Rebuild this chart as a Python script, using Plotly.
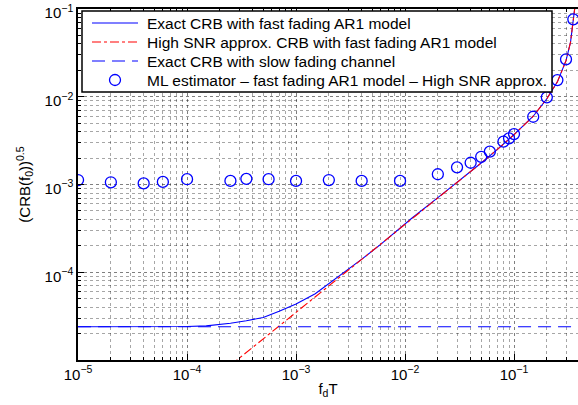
import plotly.graph_objects as go

# ---- data ----
fdT_exact = [1e-5, 3e-5, 1e-4, 1.5e-4, 2.5e-4, 3.5e-4, 5e-4, 7e-4, 1e-3, 1.5e-3, 2e-3,
             3e-3, 4.1e-3, 5.9e-3, 1.16e-2, 2e-2, 3e-2, 5e-2, 7e-2, 0.1, 0.15,
             0.2, 0.25, 0.3, 0.33, 0.35, 0.36, 0.365]
crb_exact = [2.39e-5, 2.39e-5, 2.41e-5, 2.45e-5, 2.62e-5, 2.8e-5, 3.05e-5, 3.6e-5, 4.35e-5,
             5.7e-5, 7.4e-5, 1.07e-4, 1.44e-4, 2.05e-4, 4.15e-4, 7.1e-4, 1.05e-3, 1.76e-3,
             2.5e-3, 3.7e-3, 6.0e-3, 9.5e-3, 1.48e-2, 2.58e-2, 4.2e-2, 7.0e-2, 1.0e-1, 1.3e-1]

fdT_approx = [2.5e-4, 5e-4, 1e-3, 2e-3, 5e-3, 1e-2, 2e-2, 3e-2, 5e-2, 7e-2, 0.1, 0.15,
              0.2, 0.25, 0.3, 0.33, 0.35, 0.36, 0.365]
crb_approx = [8.7e-6, 1.74e-5, 3.47e-5, 6.9e-5, 1.74e-4, 3.5e-4, 7.0e-4, 1.05e-3, 1.76e-3,
              2.5e-3, 3.7e-3, 6.0e-3, 9.5e-3, 1.48e-2, 2.58e-2, 4.2e-2, 7.0e-2, 1.0e-1, 1.3e-1]

fdT_slow = [1e-5, 0.4]
crb_slow = [2.39e-5, 2.39e-5]

fdT_ml = [1e-5, 2e-5, 4e-5, 6e-5, 1e-4, 2.5e-4, 3.5e-4, 5.6e-4, 1e-3, 2e-3, 4e-3, 9e-3,
          2e-2, 3e-2, 4e-2, 5e-2, 6e-2, 8e-2, 9e-2, 0.1, 0.15, 0.2, 0.25, 0.3, 0.35]
crb_ml = [1.125e-3, 1.06e-3, 1.03e-3, 1.07e-3, 1.15e-3, 1.10e-3, 1.16e-3, 1.15e-3, 1.10e-3,
          1.125e-3, 1.10e-3, 1.10e-3, 1.31e-3, 1.57e-3, 1.77e-3, 2.07e-3, 2.37e-3, 3.08e-3,
          3.36e-3, 3.76e-3, 5.92e-3, 9.86e-3, 1.55e-2, 2.67e-2, 7.63e-2]

x_tickvals = [1e-5, 1e-4, 1e-3, 1e-2, 1e-1]
x_ticktext = ["10<sup>−5</sup>", "10<sup>−4</sup>", "10<sup>−3</sup>", "10<sup>−2</sup>", "10<sup>−1</sup>"]
y_tickvals = [1e-5, 1e-4, 1e-3, 1e-2, 1e-1]
y_ticktext = ["", "10<sup>−4</sup>", "10<sup>−3</sup>", "10<sup>−2</sup>", "10<sup>−1</sup>"]
decades = [-5, -4, -3, -2, -1]
minor_vals = [m * 10.0 ** d for d in decades for m in range(2, 10)]

names = ["Exact CRB with fast fading AR1 model",
         "High SNR approx. CRB with fast fading AR1 model",
         "Exact CRB with slow fading channel",
         "ML estimator – fast fading AR1 model – High SNR approx."]

FONT = "Liberation Sans, Arial, Helvetica, sans-serif"
BLUE = "#0000FF"
RED = "#FF0000"

fig = go.Figure()
fig.add_trace(go.Scatter(x=fdT_exact, y=crb_exact, mode="lines", name=names[0],
                         line=dict(color=BLUE, width=1.1)))
fig.add_trace(go.Scatter(x=fdT_approx, y=crb_approx, mode="lines", name=names[1],
                         line=dict(color=RED, width=1.1, dash="dashdot")))
fig.add_trace(go.Scatter(x=fdT_slow, y=crb_slow, mode="lines", name=names[2],
                         line=dict(color=BLUE, width=1.1, dash="13px,7px")))
fig.add_trace(go.Scatter(x=fdT_ml, y=crb_ml, mode="markers", name=names[3],
                         marker=dict(symbol="circle-open", size=11, color=BLUE,
                                     line=dict(width=1.3, color=BLUE))))

# ---- legend box (MATLAB style), drawn in plot-area paper coordinates ----
PLOT_L, PLOT_R, PLOT_T, PLOT_B = 78, 578, 9, 360
def px_x(px):
    return (px - PLOT_L) / (PLOT_R - PLOT_L)
def px_y(py):
    return (PLOT_B - py) / (PLOT_B - PLOT_T)

box_l, box_r, box_t, box_b = 82, 552, 11, 92
row_y = [23, 42, 61, 80]
sample_l, sample_r, text_l = 92, 138, 145
sample_styles = [dict(color=BLUE, width=1.1, dash="solid"),
                 dict(color=RED, width=1.1, dash="dashdot"),
                 dict(color=BLUE, width=1.1, dash="13px,7px"),
                 None]

shapes = [dict(type="rect", xref="paper", yref="paper", layer="above",
               x0=px_x(box_l), x1=px_x(box_r), y0=px_y(box_b), y1=px_y(box_t),
               fillcolor="white", line=dict(color="black", width=1.5))]
annotations = []
for name, ry, style in zip(names, row_y, sample_styles):
    if style is not None:
        shapes.append(dict(type="line", xref="paper", yref="paper", layer="above",
                           x0=px_x(sample_l), x1=px_x(sample_r), y0=px_y(ry), y1=px_y(ry),
                           line=style))
    else:
        cx, r = (sample_l + sample_r) / 2, 5.5
        shapes.append(dict(type="circle", xref="paper", yref="paper", layer="above",
                           x0=px_x(cx - r), x1=px_x(cx + r), y0=px_y(ry + r), y1=px_y(ry - r),
                           line=dict(color=BLUE, width=1.3)))
    annotations.append(dict(text=name, xref="paper", yref="paper", x=px_x(text_l), y=px_y(ry),
                            xanchor="left", yanchor="middle", showarrow=False,
                            font=dict(family=FONT, size=15.5, color="black")))

fig.update_layout(
    width=578, height=405,
    margin=dict(l=PLOT_L, r=578 - PLOT_R, t=PLOT_T, b=405 - PLOT_B),
    paper_bgcolor="white", plot_bgcolor="white",
    font=dict(family=FONT, size=15, color="black"),
    showlegend=False,
    shapes=shapes, annotations=annotations,
)
grid_major = "rgba(0,0,0,0.5)"
grid_minor = "rgba(0,0,0,0.35)"
fig.update_xaxes(
    type="log", range=[-5.0005, -0.413], automargin=False,
    tickmode="array", tickvals=x_tickvals, ticktext=x_ticktext,
    ticks="inside", ticklen=6, tickcolor="black", tickwidth=1,
    showline=True, linecolor="black", linewidth=1.5, mirror="ticks",
    showgrid=True, gridcolor=grid_major, griddash="dot", gridwidth=1,
    minor=dict(tickmode="array", tickvals=minor_vals, ticks="inside", ticklen=3,
               tickcolor="black", showgrid=True, gridcolor=grid_minor,
               griddash="dot", gridwidth=1),
    zeroline=False, ticklabeloverflow="allow",
    title=dict(text="f<sub>d</sub>T", standoff=2, font=dict(size=15)),
    tickfont=dict(size=15),
)
fig.update_yaxes(
    type="log", range=[-5.0, -0.9995], automargin=False,
    tickmode="array", tickvals=y_tickvals, ticktext=y_ticktext,
    ticks="inside", ticklen=6, tickcolor="black", tickwidth=1,
    showline=True, linecolor="black", linewidth=1.5,
    showgrid=True, gridcolor=grid_major, griddash="dot", gridwidth=1,
    minor=dict(tickmode="array", tickvals=minor_vals, ticks="inside", ticklen=3,
               tickcolor="black", showgrid=True, gridcolor=grid_minor,
               griddash="dot", gridwidth=1),
    zeroline=False, ticklabeloverflow="allow", ticklabelshift=4,
    title=dict(text="(CRB(f<sub>0</sub>))<sup>0.5</sup>", standoff=10, font=dict(size=15)),
    tickfont=dict(size=15),
)

fig.write_html("out.html", config={"displayModeBar": False},
               post_script="document.body.style.margin='0';")
